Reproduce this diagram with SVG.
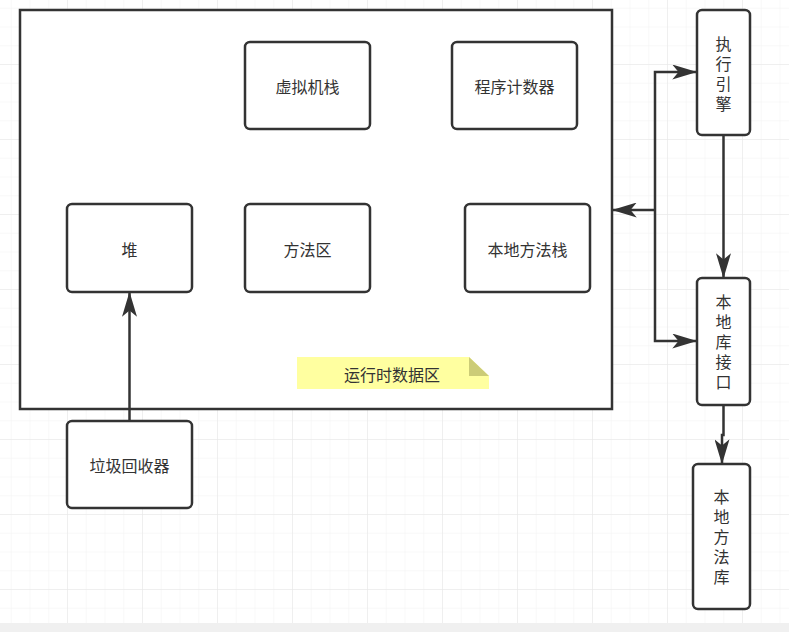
<svg xmlns="http://www.w3.org/2000/svg" width="789" height="632" viewBox="0 0 789 632">
<defs>
<pattern id="minor" x="-8" y="-11" width="18.75" height="18.75" patternUnits="userSpaceOnUse">
<path d="M0 0H18.75M0 0V18.75" fill="none" stroke="#f2f2f2" stroke-width="1"/>
</pattern>
<pattern id="major" x="-8" y="-11" width="75" height="75" patternUnits="userSpaceOnUse">
<path d="M0 0H75M0 0V75" fill="none" stroke="#e6e6e6" stroke-width="1"/>
</pattern>
<marker id="arr" viewBox="0 0 20 12" refX="19" refY="6" markerWidth="10" markerHeight="6" orient="auto" markerUnits="strokeWidth">
<path d="M0 0L20 6L0 12L5 6Z" fill="#333"/>
</marker>
</defs>
<style>
.box{fill:#fff;stroke:#333;stroke-width:2.5}
.t{font-family:"Noto Sans CJK SC","Noto Sans",sans-serif;font-size:16px;fill:#333;text-anchor:middle;dominant-baseline:central}
.v{font-family:"Noto Sans CJK SC","Noto Sans",sans-serif;font-size:16px;fill:#333;text-anchor:middle;writing-mode:vertical-rl;letter-spacing:4px}
.c{fill:none;stroke:#333;stroke-width:2.5}
</style>
<rect width="789" height="632" fill="#fff"/>
<rect width="789" height="632" fill="url(#minor)"/>
<rect width="789" height="632" fill="url(#major)"/>
<rect x="0" y="623" width="789" height="9" fill="#f0f0f0"/>

<g id="runtime-area">
<rect x="20" y="10" width="592" height="399" fill="#fff" stroke="#333" stroke-width="2.5"/>
</g>
<g id="note">
<path d="M297 357H469L489 376V389H297Z" fill="#ffffa0"/>
<path d="M469 357V376H489Z" fill="#cccc77"/>
<text class="t" x="392" y="374">运行时数据区</text>
</g>
<g id="vm-stack">
<rect class="box" x="245" y="42" width="125" height="87" rx="5"/>
<text class="t" x="307.5" y="86">虚拟机栈</text>
</g>
<g id="pc">
<rect class="box" x="452" y="42" width="125" height="87" rx="5"/>
<text class="t" x="514.5" y="86">程序计数器</text>
</g>
<g id="heap">
<rect class="box" x="67" y="204" width="125" height="88" rx="5"/>
<text class="t" x="129.5" y="249">堆</text>
</g>
<g id="method-area">
<rect class="box" x="245" y="204" width="125" height="88" rx="5"/>
<text class="t" x="307.5" y="249">方法区</text>
</g>
<g id="native-stack">
<rect class="box" x="465" y="204" width="125" height="88" rx="5"/>
<text class="t" x="527.5" y="249">本地方法栈</text>
</g>
<g id="gc">
<rect class="box" x="67" y="421" width="125" height="87" rx="5"/>
<text class="t" x="129.5" y="465">垃圾回收器</text>
</g>
<g id="engine">
<rect class="box" x="697" y="10" width="53" height="125" rx="5"/>
<text class="v" x="723.5" y="76">执行引擎</text>
</g>
<g id="native-interface">
<rect class="box" x="697" y="278" width="53" height="127" rx="5"/>
<text class="v" x="723.5" y="344">本地库接口</text>
</g>
<g id="native-lib">
<rect class="box" x="693" y="464" width="57" height="145" rx="5"/>
<text class="v" x="721.5" y="539">本地方法库</text>
</g>

<g id="connectors">
<path class="c" d="M129.5 421V293" marker-end="url(#arr)"/>
<path class="c" d="M723.5 135V277" marker-end="url(#arr)"/>
<path class="c" d="M723.5 405V435H722V463" marker-end="url(#arr)"/>
<path class="c" d="M655 210H613" marker-end="url(#arr)"/>
<path class="c" d="M655 210V72H696" marker-end="url(#arr)"/>
<path class="c" d="M655 210V341H696" marker-end="url(#arr)"/>
</g>
</svg>
